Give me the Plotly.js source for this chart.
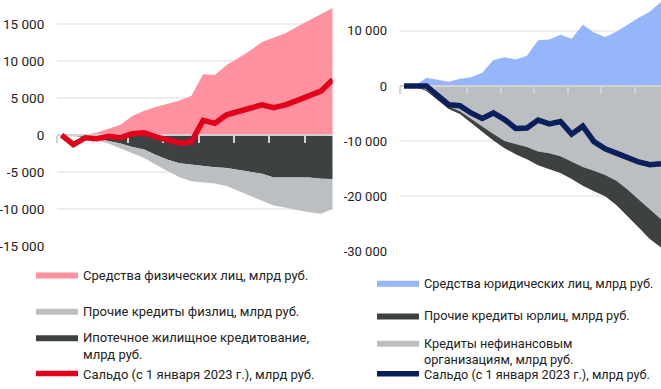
<!DOCTYPE html>
<html><head><meta charset="utf-8">
<script src="https://cdn.plot.ly/plotly-3.0.1.min.js"></script>
<style>html,body{margin:0;padding:0;background:#fff}#chart{width:661px;height:389px}</style>
</head><body><div id="chart"></div>
<script>
// Months (January 2023 – December 2024), no tick labels shown
const months = ['2023-01','2023-02','2023-03','2023-04','2023-05','2023-06','2023-07','2023-08','2023-09','2023-10','2023-11','2023-12',
                '2024-01','2024-02','2024-03','2024-04','2024-05','2024-06','2024-07','2024-08','2024-09','2024-10','2024-11','2024-12'];

// Left chart: households (bn rub, cumulative since 1 Jan 2023)
const physDeposits  = [0, 0, 50, 350, 850, 1400, 2600, 3300, 3800, 4250, 4700, 5300, 8250, 8150, 9500, 10450, 11450, 12600, 13150, 13800, 14700, 15550, 16350, 17200];
const mortgage      = [0, -100, -250, -500, -800, -1150, -1600, -1950, -2700, -3350, -3800, -4000, -4250, -4350, -4450, -4700, -4900, -5250, -5750, -5750, -5750, -5750, -5900, -5950];
const otherLoansInd = [0, 0, -50, -200, -350, -650, -850, -1150, -1300, -1550, -1900, -2250, -2100, -2200, -2450, -2850, -3350, -3650, -3800, -4100, -4450, -4700, -4750, -4050];
const saldoInd      = [0, -1300, -350, -500, -150, -350, 200, 300, -250, -700, -1050, -950, 2000, 1600, 2750, 3200, 3600, 4100, 3700, 4100, 4700, 5300, 5950, 7500];

// Right chart: corporates
const corpDeposits    = [0, 100, 1500, 1100, 750, 1300, 1600, 2400, 4700, 5200, 4800, 5500, 8300, 8450, 9300, 8550, 11100, 9700, 8900, 9850, 11200, 12400, 13450, 15300];
const corpNonFinLoans = [0, -100, -750, -2200, -3700, -4600, -6000, -7300, -8700, -10000, -10600, -11100, -11900, -12200, -12750, -13700, -14700, -15400, -16150, -17200, -18800, -20600, -22400, -24200];
const otherCorpLoans  = [0, -50, -150, -300, -500, -500, -700, -1000, -1200, -1300, -1800, -2200, -2500, -2900, -3050, -3200, -3400, -3700, -3850, -4400, -4800, -5100, -5400, -5100];
const saldoCorp       = [0, 0, 0, -1700, -3400, -3600, -4900, -5900, -4900, -6100, -7700, -7650, -6200, -6900, -6450, -8750, -7300, -10100, -11400, -12200, -13100, -13800, -14300, -14100];

const leftTickVals  = [-15000, -10000, -5000, 0, 5000, 10000, 15000];
const leftTickText  = ['-15 000', '-10 000', '-5 000', '0', '5 000', '10 000', '15 000'];
const rightTickVals = [-30000, -20000, -10000, 0, 10000];
const rightTickText = ['-30 000', '-20 000', '-10 000', '0', '10 000'];

const names = {
  physDeposits: 'Средства физических лиц, млрд руб.',
  otherLoansInd: 'Прочие кредиты физлиц, млрд руб.',
  mortgage: 'Ипотечное жилищное кредитование,<br>млрд руб.',
  saldoInd: 'Сальдо (с 1 января 2023 г.), млрд руб.',
  corpDeposits: 'Средства юридических лиц, млрд руб.',
  otherCorpLoans: 'Прочие кредиты юрлиц, млрд руб.',
  corpNonFinLoans: 'Кредиты нефинансовым<br>организациям, млрд руб.',
  saldoCorp: 'Сальдо (с 1 января 2023 г.), млрд руб.'
};

const C = {pink:'#ff929e', red:'#e2001a', dark:'#3d4142', light:'#bcbfc1', blue:'#96b6fb', navy:'#0b1f5c'};
const F = 'Roboto, "Noto Sans", sans-serif';
const W = 661, H = 389;
const xi = months.map((_, i) => i);

const Lc = {r:[-0.37, 23], yr:[-15050, 18300], xd:[57.3/W, 332.7/W], yd:[(H-251.4)/H, 1]};
const Rc = {r:[-0.36, 23], yr:[-30050, 15600], xd:[400/W, 1], yd:[(H-256.8)/H, 1]};
function zeroPos(c){ return c.yd[0] + (0 - c.yr[0])/(c.yr[1]-c.yr[0])*(c.yd[1]-c.yd[0]); }

const area = (y, color, xa, ya, leg, name, extra) => Object.assign({
  type:'scatter', mode:'lines', x: xi, y, xaxis: xa, yaxis: ya, name, legend: leg,
  line:{width:0, color}, fillcolor: color, hoverinfo:'skip'
}, extra);

const traces = [
  area(physDeposits, C.pink, 'x', 'y', 'legend', names.physDeposits, {fill:'tozeroy'}),
  area(mortgage, C.dark, 'x', 'y', 'legend3', names.mortgage, {stackgroup:'negL'}),
  area(otherLoansInd, C.light, 'x', 'y', 'legend2', names.otherLoansInd, {stackgroup:'negL'}),
  {type:'scatter', mode:'lines', x: xi, y: saldoInd, xaxis:'x3', yaxis:'y3', name: names.saldoInd, legend:'legend4',
   line:{color:C.red, width:5.5, shape:'linear'}, hoverinfo:'skip'},
  area(corpDeposits, C.blue, 'x2', 'y2', 'legend5', names.corpDeposits, {fill:'tozeroy'}),
  area(corpNonFinLoans, C.light, 'x2', 'y2', 'legend7', names.corpNonFinLoans, {stackgroup:'negR'}),
  area(otherCorpLoans, C.dark, 'x2', 'y2', 'legend6', names.otherCorpLoans, {stackgroup:'negR'}),
  {type:'scatter', mode:'lines', x: xi, y: saldoCorp, xaxis:'x4', yaxis:'y4', name: names.saldoCorp, legend:'legend8',
   line:{color:C.navy, width:5.5}, hoverinfo:'skip'}
];

function xAxis(c){ return {domain:c.xd, range:c.r, anchor:'free', position: zeroPos(c), showgrid:false, zeroline:false,
  showline:true, linecolor:'#d2d2d2', linewidth:2, ticks:'outside', ticklen:7, tickwidth:2, tickcolor:'#d2d2d2',
  tickmode:'linear', tick0:c.r[0]+0.001, dtick:3, showticklabels:false, fixedrange:true}; }
function yAxis(c, anchor, vals, text, size){ return {domain:c.yd, range:c.yr, anchor, showgrid:true, gridcolor:'#ededed',
  gridwidth:2, zeroline:false, showline:false, tickmode:'array', tickvals:vals, ticktext:text, ticks:'',
  ticklabelstandoff:12, tickfont:{family:F, size, color:'#222'}, fixedrange:true}; }
function hx(c, anchor){ return {domain:c.xd, range:c.r, anchor, visible:false, fixedrange:true}; }
function hy(c, anchor){ return {domain:c.yd, range:c.yr, anchor, visible:false, fixedrange:true}; }

function leg(xpx, ypx, size){ return {x: xpx/W, y: 1 - ypx/H, xanchor:'left', yanchor:'top', bgcolor:'rgba(0,0,0,0)',
  borderwidth:0, font:{family:F, size, color:'#222'}, itemwidth:42, valign:'top', itemclick:false, itemdoubleclick:false}; }

const layout = {
  width: W, height: H, margin:{l:0, r:0, t:0, b:0}, paper_bgcolor:'#fff', plot_bgcolor:'rgba(0,0,0,0)',
  showlegend: true, hovermode:false,
  xaxis: xAxis(Lc), yaxis: yAxis(Lc, 'x', leftTickVals, leftTickText, 13.5),
  xaxis2: xAxis(Rc), yaxis2: yAxis(Rc, 'x2', rightTickVals, rightTickText, 13),
  xaxis3: hx(Lc, 'y3'), yaxis3: hy(Lc, 'x3'),
  xaxis4: hx(Rc, 'y4'), yaxis4: hy(Rc, 'x4'),
  legend:  leg(31, 265, 13),
  legend2: leg(31, 302, 13),
  legend3: leg(31, 329, 13),
  legend4: leg(31, 366, 13),
  legend5: leg(372, 273.5, 12.7),
  legend6: leg(372, 307, 12.7),
  legend7: leg(372, 335, 12.7),
  legend8: leg(372, 366.5, 12.7)
};

Plotly.newPlot('chart', traces, layout, {staticPlot:true, displayModeBar:false});
</script>
</body></html>
